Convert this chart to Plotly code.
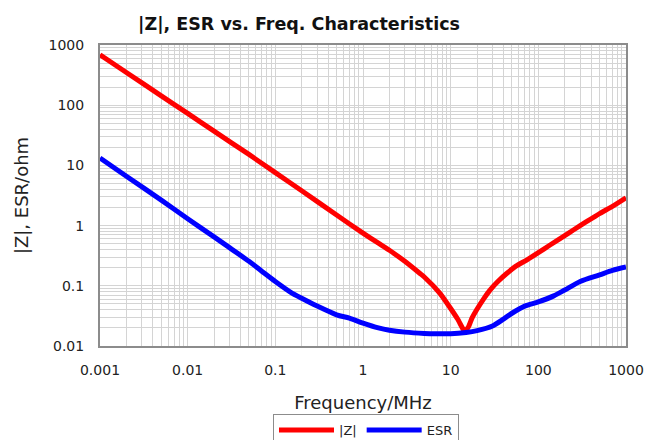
import plotly.graph_objects as go

# |Z| curve (frequency MHz, ohm)
z_freq = [0.001, 0.002, 0.005, 0.01, 0.02, 0.05, 0.1, 0.2, 0.5, 1, 1.5, 2, 3, 4.47, 5,
          7.55, 10, 12, 13.9, 14.6, 16, 17.5, 19.8, 24, 28.1, 35, 43.5, 55, 73.6, 100, 136,
          200, 251, 350, 505, 700, 1000]
z_val = [690, 350, 143, 73, 37, 15.2, 7.6, 3.8, 1.5, 0.75, 0.51, 0.39, 0.255, 0.16, 0.14,
         0.075, 0.042, 0.028, 0.019, 0.0175, 0.021, 0.029, 0.040, 0.062, 0.085, 0.12, 0.16, 0.21,
         0.268, 0.355, 0.476, 0.68, 0.845, 1.15, 1.6, 2.09, 2.9]

# ESR curve
esr_freq = [0.001, 0.002, 0.005, 0.01, 0.02, 0.03, 0.05, 0.07, 0.1, 0.15, 0.2, 0.3, 0.5, 0.7,
            1, 1.5, 2, 3, 5, 7, 10, 15, 20, 30, 40, 50, 70, 100, 150, 200, 300, 500, 700, 1000]
esr_val = [13.3, 6.6, 2.65, 1.3, 0.65, 0.43, 0.255, 0.175, 0.118, 0.078, 0.062, 0.046, 0.033,
           0.029, 0.024, 0.0200, 0.0183, 0.0170, 0.0162, 0.0160, 0.0160, 0.0168, 0.0180, 0.0215,
           0.028, 0.035, 0.046, 0.054, 0.068, 0.085, 0.118, 0.152, 0.180, 0.205]

x_ticks = [0.001, 0.01, 0.1, 1, 10, 100, 1000]
x_labels = ["0.001", "0.01", "0.1", "1", "10", "100", "1000"]
y_ticks = [0.01, 0.1, 1, 10, 100, 1000]
y_labels = ["0.01", "0.1", "1", "10", "100", "1000"]

FONT = "DejaVu Sans"
GRID = "#d4d4d4"
AXIS = "#8c8c8c"
W, H = 645, 440

fig = go.Figure()
fig.add_trace(go.Scatter(x=z_freq, y=z_val, mode="lines", name="|Z|",
                         line=dict(color="#ff0000", width=5, shape="spline", smoothing=0.5)))
fig.add_trace(go.Scatter(x=esr_freq, y=esr_val, mode="lines", name="ESR",
                         line=dict(color="#0000ff", width=5, shape="spline", smoothing=0.8)))

axis_common = dict(
    type="log", showgrid=True, gridcolor=GRID, gridwidth=1,
    showline=True, linecolor=AXIS, linewidth=2, mirror=True,
    ticks="", tickfont=dict(family=FONT, size=14, color="#222"),
    minor=dict(dtick="D1", showgrid=True, gridcolor=GRID, gridwidth=1, ticks=""),
    zeroline=False, automargin=False,
)

fig.update_layout(
    width=W, height=H,
    margin=dict(l=100, r=W - 100 - 526, t=45, b=H - 45 - 301, autoexpand=False),
    paper_bgcolor="white", plot_bgcolor="white",
    title=dict(text="<b>|Z|, ESR vs. Freq. Characteristics</b>",
               font=dict(family=FONT, size=17.5, color="#111"),
               x=299 / W, xanchor="center", y=1 - 24 / H, yanchor="middle"),
    xaxis=dict(axis_common, range=[-3, 3], tickvals=x_ticks, ticktext=x_labels,
               ticklabelstandoff=10,
               title=dict(text="Frequency/MHz", font=dict(family=FONT, size=18, color="#222"),
                          standoff=20)),
    yaxis=dict(axis_common, range=[-2, 3], tickvals=y_ticks, ticktext=y_labels,
               ticklabelstandoff=11,
               title=dict(text="|Z|, ESR/ohm", font=dict(family=FONT, size=18, color="#222"),
                          standoff=15)),
    showlegend=True,
    legend=dict(orientation="h", x=(366 - 100) / 526, xanchor="center",
                y=(346 - 414) / 301, yanchor="top",
                bordercolor="#8c8c8c", borderwidth=1,
                font=dict(family=FONT, size=13, color="#222"),
                itemwidth=55, tracegroupgap=0),
)

fig.write_html(
    "out.html",
    config={"displayModeBar": False},
    post_script="document.body.style.margin='0';"
                "document.documentElement.style.overflow='hidden';"
                "document.body.style.overflow='hidden';",
)
